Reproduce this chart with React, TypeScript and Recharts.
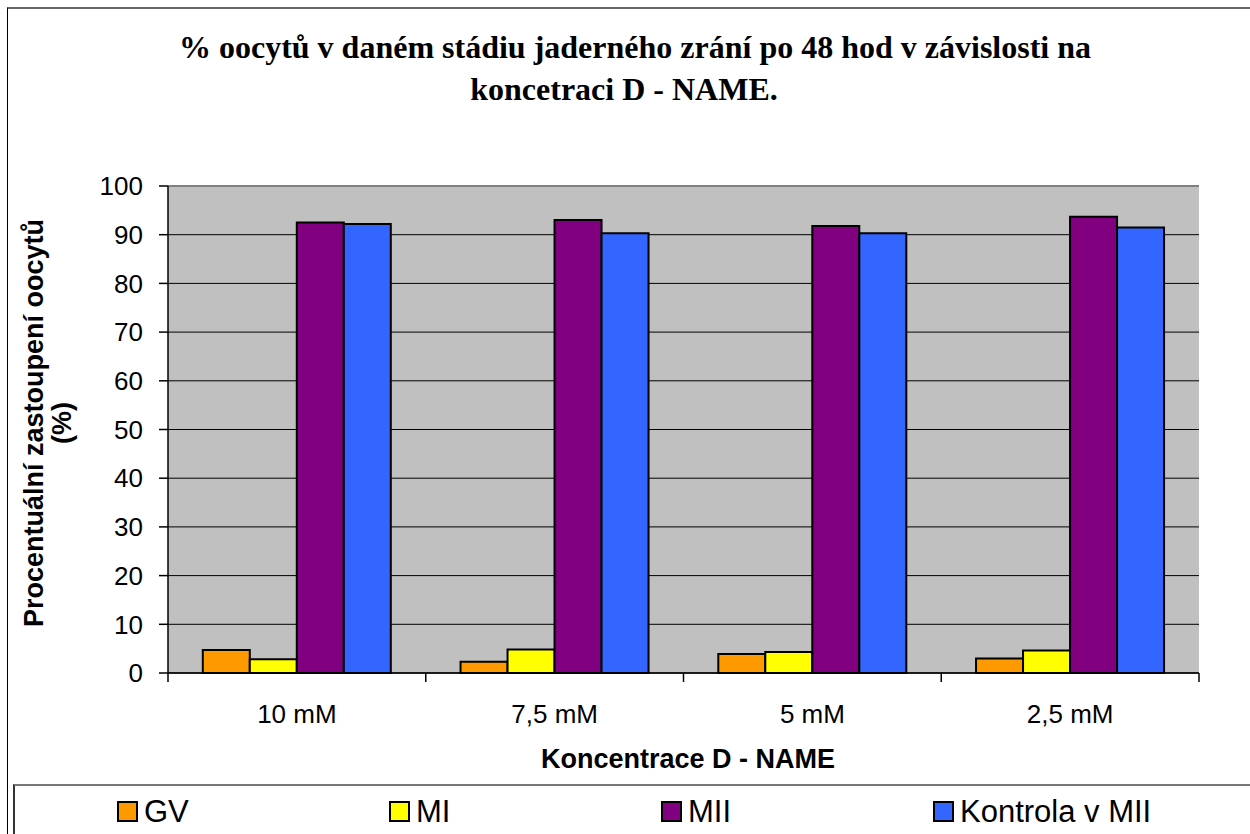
import React from "react"
import { BarChart, Bar, XAxis, YAxis, CartesianGrid, ReferenceLine } from "recharts"

const categories = ["10 mM", "7,5 mM", "5 mM", "2,5 mM"]
const gv = [4.7, 2.3, 3.9, 3.0]
const mi = [2.8, 4.8, 4.3, 4.6]
const mii = [92.5, 93.0, 91.8, 93.7]
const kontrola = [92.2, 90.3, 90.3, 91.5]
const yTicks = [0, 10, 20, 30, 40, 50, 60, 70, 80, 90, 100]

const series = [
  { key: "gv", name: "GV", color: "#FF9900" },
  { key: "mi", name: "MI", color: "#FFFF00" },
  { key: "mii", name: "MII", color: "#800080" },
  { key: "kontrola", name: "Kontrola v MII", color: "#3366FF" },
]

const data = categories.map((c, i) => ({
  cat: c,
  gv: gv[i],
  mi: mi[i],
  mii: mii[i],
  kontrola: kontrola[i],
}))

const W = 1250
const H = 834
const PLOT_LEFT = 168
const PLOT_RIGHT = 1199
const BAND = (PLOT_RIGHT - PLOT_LEFT) / categories.length
const sans = "'Liberation Sans', Arial, sans-serif"
const serif = "'Liberation Serif', 'Times New Roman', serif"

function CatTick(props: any) {
  const { x, y, payload, index } = props
  const last = index === categories.length - 1
  return (
    <g>
      <line x1={x - BAND / 2} x2={x - BAND / 2} y1={y} y2={y + 9} stroke="#000" strokeWidth={1.5} />
      {last && <line x1={x + BAND / 2} x2={x + BAND / 2} y1={y} y2={y + 9} stroke="#000" strokeWidth={1.5} />}
      <text x={x} y={y + 50} textAnchor="middle" fontSize={26} fill="#000">
        {payload.value}
      </text>
    </g>
  )
}

export default function App() {
  return (
    <div
      style={{
        position: "absolute",
        left: 0,
        top: 0,
        width: W,
        height: H,
        overflow: "hidden",
        background: "#fff",
        fontFamily: sans,
      }}
    >
      <div
        style={{
          position: "absolute",
          left: 7,
          top: 7,
          width: W + 20,
          height: H + 20,
          borderLeft: "1px solid #000",
          borderTop: "2px solid #666",
        }}
      />
      <div
        style={{
          position: "absolute",
          left: 13,
          top: 784,
          width: W + 20,
          height: 80,
          borderLeft: "2px solid #333",
          borderTop: "2px solid #777",
        }}
      />
      <div style={{ position: "absolute", left: 0, top: 0 }}>
        <BarChart
          width={W}
          height={H}
          data={data}
          margin={{ top: 186, right: W - PLOT_RIGHT, left: 0, bottom: 101 }}
          barCategoryGap="13.5%"
          barGap={0}
        >
          <CartesianGrid vertical={false} stroke="#000" strokeWidth={1} fill="#C0C0C0" fillOpacity={1} />
          <XAxis
            dataKey="cat"
            height={60}
            tickSize={0}
            tickMargin={0}
            tickLine={false}
            axisLine={{ stroke: "#000", strokeWidth: 1.5 }}
            tick={<CatTick />}
            interval={0}
          />
          <YAxis
            width={PLOT_LEFT}
            domain={[0, 100]}
            ticks={yTicks}
            interval={0}
            tickSize={9}
            tickMargin={16}
            tickLine={{ stroke: "#000", strokeWidth: 1.5 }}
            axisLine={{ stroke: "#000", strokeWidth: 1.5 }}
            tick={{ fill: "#000", fontSize: 26 }}
          />
          <YAxis
            yAxisId="r"
            orientation="right"
            width={0}
            domain={[0, 100]}
            tick={false}
            tickLine={false}
            axisLine={{ stroke: "#808080", strokeWidth: 2 }}
          />
          <ReferenceLine y={100} stroke="#808080" strokeWidth={2} />
          {series.map((s) => (
            <Bar
              key={s.key}
              dataKey={s.key}
              name={s.name}
              fill={s.color}
              stroke="#000"
              strokeWidth={2}
              isAnimationActive={false}
            />
          ))}
        </BarChart>
      </div>
      <svg
        width={W}
        height={H}
        style={{ position: "absolute", left: 0, top: 0, pointerEvents: "none" }}
      >
        <g fontFamily={serif} fontWeight="bold" fontSize={32} textAnchor="middle" fill="#000">
          <text x={635} y={58}>% oocytů v daném stádiu jaderného zrání po 48 hod v závislosti na</text>
          <text x={624} y={100}>koncetraci D - NAME.</text>
        </g>
        <g fontWeight="bold" fontSize={27} textAnchor="middle" fill="#000">
          <text transform="translate(43,423) rotate(-90)">Procentuální zastoupení oocytů</text>
          <text transform="translate(71,423) rotate(-90)">(%)</text>
          <text x={688} y={768}>Koncentrace D - NAME</text>
        </g>
        {series.map((s, i) => (
          <g key={s.key}>
            <rect x={118 + i * 272} y={802} width={19} height={19} fill={s.color} stroke="#000" strokeWidth={2} />
            <text x={144 + i * 272} y={822} fontSize={31} fill="#000">
              {s.name}
            </text>
          </g>
        ))}
      </svg>
    </div>
  )
}
